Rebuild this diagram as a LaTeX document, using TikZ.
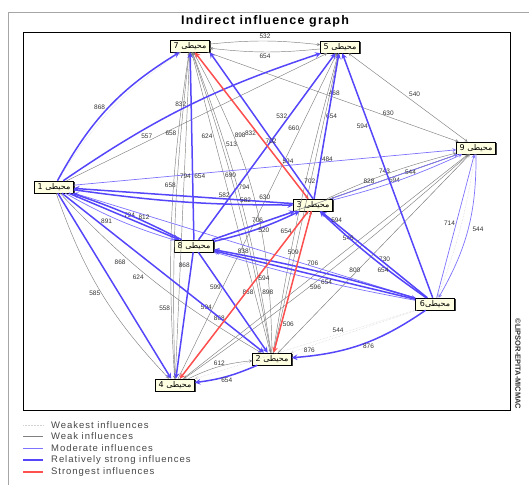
\documentclass[tikz,border=0pt]{standalone}
\usepackage{fontspec}
\setmainfont{Liberation Sans}
\newfontfamily\arfont[Script=Arabic]{DejaVu Sans}
\newfontfamily\spacedfont[LetterSpace=10]{Liberation Sans}
\TeXXeTstate=1
\usetikzlibrary{shadows}
\definecolor{modblue}{RGB}{125,115,255}
\definecolor{strblue}{RGB}{85,70,250}
\definecolor{topred}{RGB}{255,80,80}
\definecolor{boxfill}{RGB}{255,255,226}
\definecolor{legtext}{RGB}{70,70,70}
\tikzset{
  env/.style={draw, fill=boxfill, line width=.5pt, minimum width=39pt, minimum height=12pt,
    inner sep=1pt, font=\arfont\fontsize{8}{9}\selectfont,
    drop shadow={shadow xshift=1.3pt, shadow yshift=-1.3pt, fill=black!75, opacity=1}},
  lbl/.style={font=\fontsize{6.5}{7}\selectfont, text=black!80, inner sep=1pt},
  weakest/.style={->, draw=gray!35, densely dotted, line width=.5pt},
  weak/.style={->, draw=gray, line width=.45pt},
  moderate/.style={->, draw=modblue, line width=.7pt},
  strong/.style={->, draw=strblue, line width=1.5pt},
  strongest/.style={->, draw=topred, line width=1.5pt},
}
\begin{document}
\begin{tikzpicture}[x=1pt, y=1pt, >=stealth]
  \useasboundingbox (0,0) rectangle (529,484);
  \draw[gray!70, line width=.8pt] (8,-2) -- (8,472) -- (535,472);
  \draw[line width=.7pt] (23,74) rectangle (510,452);
  \node[font=\spacedfont\bfseries\fontsize{12.5}{13}\selectfont] (title) at (265,463) {Indirect influence graph};
  \node[font=\bfseries\fontsize{7.5}{8}\selectfont, rotate=-90, text=black!80] (copy) at (518,120) {©LIPSOR-EPITA-MICMAC};

  % variables
  \node[env] (n7) at (190,438) {\beginR محیطی 7\endR};
  \node[env] (n5) at (340,437) {\beginR محیطی 5\endR};
  \node[env] (n9) at (476,336) {\beginR محیطی 9\endR};
  \node[env] (n1) at (54,297) {\beginR محیطی 1\endR};
  \node[env] (n3) at (313,279) {\beginR محیطی 3\endR};
  \node[env] (n8) at (194,238) {\beginR محیطی 8\endR};
  \node[env] (n6) at (435,180) {\beginR محیطی6\endR};
  \node[env] (n2) at (272,125) {\beginR محیطی 2\endR};
  \node[env] (n4) at (175,99) {\beginR محیطی 4\endR};

  % weakest
  \draw[weakest] (n1) to[bend left=12] (n7);
  \draw[weakest] (n6) -- node[lbl,pos=.35,above]{544} (n4);
  \draw[weakest] (n6) -- node[lbl,pos=.85,below]{876} (n2);
  \draw[weakest] (n9) -- (n2);
  \draw[weakest] (n9) -- (n8);
  \draw[weakest] (n9) to[bend left=6] (n6);

  % weak
  \draw[weak] (n7) to[bend left=6] node[lbl,above=1pt]{532} (n5);
  \draw[weak] (n5) to[bend left=6] node[lbl,below=1pt]{654} (n7);
  \draw[weak] (n7) -- node[lbl,pos=.72,above]{630} (n9);
  \draw[weak,<->] (n5) -- node[lbl,pos=.5,above right]{540} (n9);
  \draw[weak] (n1) -- node[lbl,pos=.4,below]{658} (n5);
  \draw[weak] (n4) -- node[lbl,pos=.84,left]{832} (n7);
  \draw[weak] (n4) to[bend left=4] node[lbl,pos=.6,left]{658} (n7);
  \draw[weak] (n2) -- node[lbl,pos=.72,left]{624} node[lbl,pos=.59,right]{690} node[lbl,pos=.2,left]{868} (n7);
  \draw[weak] (n2) to[bend right=6] node[lbl,pos=.7,right]{513} node[lbl,pos=.18,right]{898} (n7);
  \draw[weak] (n2) to[bend right=14] node[lbl,pos=.72,right]{898} (n7);
  \draw[weak] (n7) -- node[lbl,pos=.55,left]{832} (n3);
  \draw[weak] (n7) to[bend left=4] node[lbl,pos=.68,left]{838} (n2);
  \draw[weak] (n4) -- node[lbl,pos=.77,left]{660} node[lbl,pos=.22,left]{594} (n5);
  \draw[weak] (n2) -- node[lbl,pos=.79,right]{654} (n5);
  \draw[weak] (n2) to[bend left=3] node[lbl,pos=.88,right]{468} (n5);
  \draw[weak] (n3) -- node[lbl,pos=.27,right]{484} (n5);
  \draw[weak] (n8) -- (n5);
  \draw[weak] (n3) to[bend left=5] node[lbl,pos=.45,above]{743} (n9);
  \draw[weak] (n9) -- node[lbl,pos=.5,below]{594} (n3);
  \draw[weak] (n8) -- (n9);
  \draw[weak] (n2) -- node[lbl,pos=.4,above]{800} (n9);
  \draw[weak] (n4) -- (n9);
  \draw[weak] (n9) to[bend left=3] node[lbl,pos=.58,right]{596} (n4);
  \draw[weak] (n1) to[bend right=12] node[lbl,left]{585} (n4);
  \draw[weak] (n1) to[bend right=8] node[lbl,pos=.35,below left]{868} node[lbl,pos=.45,below left]{624} (n2);
  \draw[weak] (n7) to[bend right=6] node[lbl,pos=.8,left]{558} (n4);
  \draw[weak] (n4) -- node[lbl,pos=.88,left]{654} node[lbl,pos=.36,left]{868} (n3);
  \draw[weak] (n2) -- (n3);
  \draw[weak] (n4) to[bend left=10] node[lbl,above]{612} (n2);

  % moderate
  \draw[moderate] (n1) -- node[lbl,pos=.56,above]{594} (n9);
  \draw[moderate] (n3) -- node[lbl,pos=.3,above]{828} (n9);
  \draw[moderate] (n3) to[bend right=5] node[lbl,pos=.6,above]{544} (n9);
  \draw[moderate] (n6) -- node[lbl,pos=.52,left]{714} (n9);
  \draw[moderate] (n9) to[bend left=15] node[lbl,right=3pt]{544} (n6);
  \draw[moderate] (n1) -- node[lbl,pos=.7,above]{706} (n6);
  \draw[moderate] (n6) -- node[lbl,pos=.4,above]{730} (n3);
  \draw[moderate] (n6) to[bend left=3] (n8);
  \draw[moderate] (n1) to[bend right=6] node[lbl,pos=.45,below left]{891} (n8);

  % relatively strong
  \draw[strong] (n1) to[bend left=15] node[lbl,left=2pt]{868} (n7);
  \draw[strong] (n1) to[bend left=8] node[lbl,pos=.3,below right]{557} (n5);
  \draw[strong] (n3.north) -- (n7.south east);
  \draw[strong] (n8) -- node[lbl,pos=.34,left]{794} node[lbl,pos=.34,right]{654} (n7);
  \draw[strong] (n8) -- node[lbl,pos=.66,left]{532} node[lbl,pos=.28,right]{794} node[lbl,pos=.24,left]{582} (n5);
  \draw[strong] (n3) -- node[lbl,pos=.12,left]{702} (n5);
  \draw[strong] (n6) -- node[lbl,pos=.7,left]{594} (n5);
  \draw[strong] (n3) -- node[lbl,pos=.13,above]{630} (n1);
  \draw[strong] (n1) to[bend right=4] node[lbl,pos=.8,above]{582} (n3);
  \draw[strong] (n1) -- node[lbl,pos=.55,above]{794} (n8);
  \draw[strong] (n8) to[bend right=4] node[lbl,pos=.34,above]{812} (n1);
  \draw[strong] (n8) -- node[lbl,pos=.55,above]{706} (n3);
  \draw[strong] (n8) to[bend right=6] node[lbl,pos=.58,below]{520} (n3);
  \draw[strong] (n6) -- node[lbl,pos=.74,below]{546} node[lbl,pos=.85,above]{594} (n3);
  \draw[strong] (n6) to[bend left=4] node[lbl,pos=.38,below]{654} (n3);
  \draw[strong] (n6) -- node[lbl,pos=.44,below]{654} (n8);
  \draw[strong] (n6) to[bend right=3] (n8);
  \draw[strong] (n1) -- (n4);
  \draw[strong] (n1) -- (n2);
  \draw[strong] (n8) -- node[lbl,pos=.1,left]{868} (n4);
  \draw[strong] (n8) -- node[lbl,pos=.35,left]{599} (n2);
  \draw[strong] (n6) to[bend left=15] node[lbl,pos=.45,below]{876} (n2);
  \draw[strong] (n2) to[bend left=8] node[lbl,below]{654} (n4);

  % strongest
  \draw[strongest] (n3) -- node[lbl,pos=.39,right]{702} (n7);
  \draw[strongest] (n3) -- node[lbl,pos=.4,right]{594} (n4);
  \draw[strongest] (n3) -- node[lbl,pos=.8,right]{506} node[lbl,pos=.29,left]{509} (n2);

  % legend
  \foreach \s/\t [count=\i] in {weakest/Weakest influences, weak/Weak influences,
      moderate/Moderate influences, strong/Relatively strong influences,
      strongest/Strongest influences}{
    \node[anchor=west, inner sep=0pt, text=legtext, font=\spacedfont\fontsize{9.5}{10}\selectfont] (leg\i) at (51,71-11.8*\i) {\t};
    \draw[\s,-] ([xshift=-28pt]leg\i.west) -- ([xshift=-8pt]leg\i.west);
  }
\end{tikzpicture}
\end{document}
